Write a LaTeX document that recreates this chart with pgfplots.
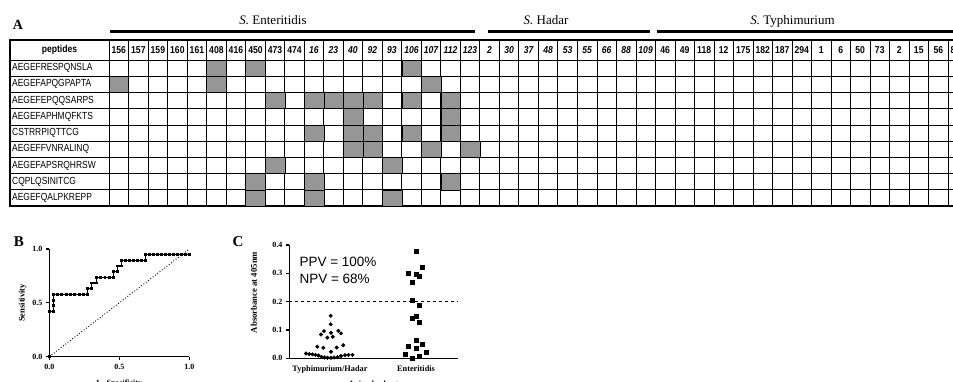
\documentclass[border=0pt]{standalone}
\usepackage{graphicx}
\usepackage{pgfplots}
\pgfplotsset{compat=1.18}
\usepackage{fontspec}
\setmainfont{Liberation Serif}
\newfontfamily\arial{Liberation Sans}
\definecolor{cellgray}{RGB}{150,150,150}
\newcommand{\hd}[1]{\scalebox{0.86}[1]{\arial\bfseries\fontsize{10}{11}\selectfont #1}}
\newcommand{\hdi}[1]{\scalebox{0.86}[1]{\arial\bfseries\itshape\fontsize{10}{11}\selectfont #1}}
\newcommand{\pep}[1]{\scalebox{0.82}[1]{\arial\fontsize{10.3}{11}\selectfont #1}}
\begin{document}
\begin{tikzpicture}[x=1pt,y=1pt]
% ---------------- Panel A ----------------
\node[font=\bfseries\fontsize{14}{16}\selectfont] at (18,-25) {A};
\node[font=\fontsize{13}{15}\selectfont, anchor=base] at (273,-25) {\textit{S.} Enteritidis};
\node[font=\fontsize{13}{15}\selectfont, anchor=base] at (546,-25) {\textit{S.} Hadar};
\node[font=\fontsize{13}{15}\selectfont, anchor=base] at (792.5,-25) {\textit{S.} Typhimurium};
\draw[line width=2.4pt] (110,-31.5) -- (475,-31.5);
\draw[line width=2.4pt] (488,-31.5) -- (650,-31.5);
\draw[line width=2.4pt] (657,-31.5) -- (965,-31.5);

\begin{axis}[
  at={(10pt,-206pt)}, anchor=south west,
  scale only axis,
  x=19.51pt, y=16.22pt,
  xmin=-5.08, xmax=44.4,
  ymin=0, ymax=10.233,
  axis on top,
  xtick={0,...,44}, ytick={0,...,9},
  xticklabels={}, yticklabels={},
  major tick length=0pt,
  grid=major,
  major grid style={black, line width=0.7pt},
  axis line style={black, line width=1.1pt},
]
\addplot[only marks, mark=square*, mark size=8.11pt,
  mark options={fill=cellgray, draw=none, xscale=1.2028}]
coordinates {
 (5.5,8.5) (7.5,8.5) (15.5,8.5)
 (0.5,7.5) (5.5,7.5) (16.5,7.5)
 (8.5,6.5) (10.5,6.5) (11.5,6.5) (12.5,6.5) (13.5,6.5) (15.5,6.5) (17.5,6.5)
 (12.5,5.5) (17.5,5.5)
 (10.5,4.5) (12.5,4.5) (13.5,4.5) (15.5,4.5) (17.5,4.5)
 (12.5,3.5) (13.5,3.5) (16.5,3.5) (18.5,3.5)
 (8.5,2.5) (14.5,2.5)
 (7.5,1.5) (10.5,1.5) (17.5,1.5)
 (7.5,0.5) (10.5,0.5) (14.5,0.5)
};
\end{axis}
\draw[line width=1.1pt] (109.1,-40) -- (109.1,-206);

\node at (59.5,-50) {\hd{peptides}};
\foreach \k/\l in {1/156,2/157,3/159,4/160,5/161,6/408,7/416,8/450,9/473,10/474,
  29/46,30/49,31/118,32/12,33/175,34/182,35/187,36/294,37/1,38/6,39/50,40/73,41/2,42/15,43/56,44/812}
  \node at ({109.1+(\k-0.5)*19.51},-50) {\hd{\l}};
\foreach \k/\l in {11/16,12/23,13/40,14/92,15/93,16/106,17/107,18/112,19/123,
  20/2,21/30,22/37,23/48,24/53,25/55,26/66,27/88,28/109}
  \node at ({109.1+(\k-0.5)*19.51},-50) {\hdi{\l}};
\foreach \r/\n in {1/AEGEFRESPQNSLA,2/AEGEFAPQGPAPTA,3/AEGEFEPQQSARPS,4/AEGEFAPHMQFKTS,
  5/CSTRRPIQTTCG,6/AEGEFFVNRALINQ,7/AEGEFAPSRQHRSW,8/CQPLQSINITCG,9/AEGEFQALPKREPP}
  \node[anchor=west, inner sep=0pt] at (12,{-60-(\r-0.5)*16.22}) {\pep{\n}};

% ---------------- Panel B ----------------
\node[font=\bfseries\fontsize{15}{17}\selectfont] at (19,-242) {B};
\begin{axis}[
  at={(49.3pt,-356.7pt)}, anchor=south west,
  scale only axis, width=140pt, height=107.7pt,
  xmin=0, xmax=1, ymin=0, ymax=1,
  clip=false,
  axis lines*=left,
  axis line style={-, line width=1.3pt},
  tick style={line width=1.1pt, black},
  tick align=outside, major tick length=3.5pt,
  xtick={0,0.5,1}, ytick={0,0.5,1},
  /pgf/number format/assume math mode=true,
  /pgf/number format/.cd, fixed, fixed zerofill, precision=1, /pgfplots/.cd,
  tick label style={font=\bfseries\fontsize{8}{9}\selectfont},
]
\addplot[black, line width=0.9pt, dotted] coordinates {(0,0) (1,1)};
\addplot[black, line width=1.3pt, mark=square*, mark size=0.8pt] coordinates {
 (0,0) (0,0.421) (0.029,0.421) (0.029,0.474) (0.029,0.526) (0.029,0.579)
 (0.060,0.579) (0.090,0.579) (0.121,0.579) (0.152,0.579) (0.182,0.579)
 (0.213,0.579) (0.243,0.579) (0.274,0.579) (0.274,0.632) (0.303,0.632)
 (0.303,0.684) (0.338,0.684) (0.338,0.737) (0.368,0.737) (0.398,0.737)
 (0.427,0.737) (0.457,0.737) (0.457,0.789) (0.488,0.789) (0.488,0.842)
 (0.517,0.842) (0.517,0.895) (0.546,0.895) (0.575,0.895) (0.603,0.895)
 (0.632,0.895) (0.660,0.895) (0.689,0.895) (0.689,0.947) (0.718,0.947)
 (0.746,0.947) (0.774,0.947) (0.802,0.947) (0.830,0.947) (0.858,0.947)
 (0.887,0.947) (0.915,0.947) (0.943,0.947) (0.972,0.947) (1.0,0.947)
};
\end{axis}
\node[rotate=90, font=\bfseries\fontsize{8.5}{9}\selectfont] at (22.5,-303) {Sensitivity};
\node[anchor=north, font=\bfseries\fontsize{8}{9}\selectfont] at (119,-376) {1 - Specificity};

% ---------------- Panel C ----------------
\node[font=\bfseries\fontsize{15}{17}\selectfont] at (238,-242) {C};
\begin{axis}[
  at={(289.3pt,-358.3pt)}, anchor=south west,
  scale only axis, width=168.7pt, height=113.3pt,
  xmin=289.3, xmax=458, ymin=0, ymax=0.4,
  clip=false,
  axis lines*=left,
  axis line style={-, line width=1.3pt},
  tick style={line width=1.1pt, black},
  tick align=outside,
  major tick length=3.5pt,
  ytick={0,0.1,0.2,0.3,0.4},
  xtick={330,416}, xticklabels={Typhimurium/Hadar, Enteritidis},
  x tick style={draw=none},
  /pgf/number format/assume math mode=true,
  /pgf/number format/.cd, fixed, fixed zerofill, precision=1, /pgfplots/.cd,
  yticklabel style={font=\bfseries\fontsize{8}{9}\selectfont},
  xticklabel style={font=\bfseries\fontsize{8.3}{9}\selectfont},
]
\addplot[black, line width=1.1pt, dashed] coordinates {(289.3,0.2) (458,0.2)};
\addplot[only marks, mark=*, mark size=1.8pt, black] coordinates {
 (330.7,0.150) (330.7,0.120) (324,0.096) (331,0.090) (338.3,0.097) (341,0.088)
 (321,0.084) (327.3,0.073) (332.7,0.076) (317.3,0.041) (323.3,0.037)
 (336.7,0.038) (343.3,0.046) (331,0.023)
 (306,0.017) (309.3,0.015) (312.5,0.014) (315.5,0.012) (318.5,0.010)
 (321.5,0.005) (324.5,0.003) (327.5,0.002) (331,0.002) (334,0.003)
 (337.5,0.004) (341,0.008) (345,0.011) (348.5,0.012) (352.5,0.012)
};
\addplot[only marks, mark=square*, mark size=2pt, black] coordinates {
 (415.7,0.379) (422.3,0.321) (408.3,0.300) (415.7,0.298) (419,0.290)
 (412.3,0.267) (411.7,0.206) (419,0.188) (412.3,0.141) (415.7,0.149)
 (419,0.126) (415.7,0.065) (422.3,0.050) (408.3,0.041) (415.7,0.035)
 (425.7,0.023) (405,0.014) (419,0.006) (412.3,0.000)
};
\end{axis}
\node[anchor=base west, font=\arial\fontsize{13.5}{16}\selectfont] at (296,-266.7) {PPV = 100\%};
\node[anchor=base west, font=\arial\fontsize{13.5}{16}\selectfont] at (296,-283.3) {NPV = 68\%};
\node[rotate=90, font=\bfseries\fontsize{8.7}{10}\selectfont] at (254,-292.5) {Absorbance at 405nm};
\node[anchor=north, font=\bfseries\fontsize{8}{9}\selectfont] at (373.5,-377) {Animal cohort};

\pgfresetboundingbox
\path[use as bounding box] (0,0) rectangle (953,-382);
\end{tikzpicture}
\end{document}
